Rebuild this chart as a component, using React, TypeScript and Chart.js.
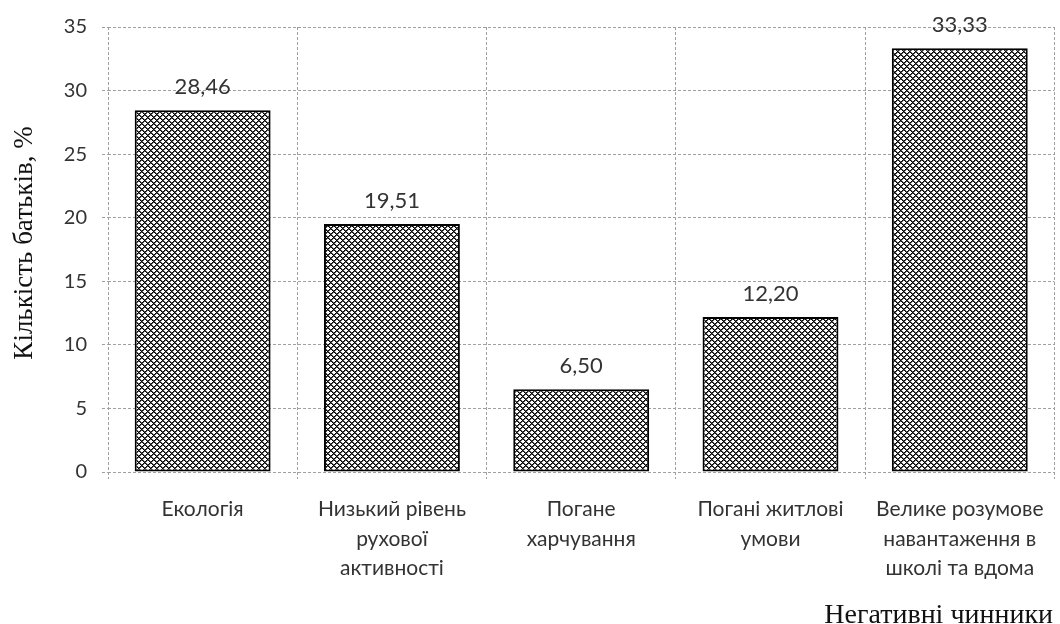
import React, { useEffect, useRef } from "react";
import { Chart, registerables } from "chart.js";

Chart.register(...registerables);

const categories: string[][] = [
  ["Екологія"],
  ["Низький рівень", "рухової", "активності"],
  ["Погане", "харчування"],
  ["Погані житлові", "умови"],
  ["Велике розумове", "навантаження в", "школі та вдома"],
];
const values: number[] = [28.46, 19.51, 6.5, 12.2, 33.33];
const yTitle = "Кількість батьків, %";
const xTitle = "Негативні чинники";
const yMin = 0;
const yMax = 35;
const yStep = 5;

function makePattern(): CanvasPattern | string {
  const s = 6;
  const c = document.createElement("canvas");
  c.width = s;
  c.height = s;
  const g = c.getContext("2d");
  if (!g) return "#888";
  const img = g.createImageData(s, s);
  for (let y = 0; y < s; y++) {
    for (let x = 0; x < s; x++) {
      const a = (x + y) % s;
      const b = (x - y + s) % s;
      let v = 255;
      if (a === 0 || b === 0) v = 0;
      else if (a === 1 || b === 1) v = 90;
      const i = (y * s + x) * 4;
      img.data[i] = v;
      img.data[i + 1] = v;
      img.data[i + 2] = v;
      img.data[i + 3] = 255;
    }
  }
  g.putImageData(img, 0, 0);
  const p = g.createPattern(c, "repeat");
  return p || "#888";
}

const fmt = (v: number) => v.toFixed(2).replace(".", ",");

export default function App() {
  const ref = useRef<HTMLCanvasElement | null>(null);
  useEffect(() => {
    if (!ref.current) return;
    const pattern = makePattern();
    const gridColor = "#a0a0a0";

    const labelsPlugin = {
      id: "labelsPlugin",
      afterDatasetsDraw(chart: any) {
        const ctx = chart.ctx;
        const meta = chart.getDatasetMeta(0);
        ctx.save();
        ctx.font = '22px Lato';
        ctx.fillStyle = "#333333";
        ctx.textAlign = "center";
        ctx.textBaseline = "middle";
        meta.data.forEach((bar: any, i: number) => {
          ctx.fillText(fmt(values[i]), bar.x, bar.y - 23);
        });
        ctx.restore();
      },
      afterDraw(chart: any) {
        const ctx = chart.ctx;
        ctx.save();
        ctx.fillStyle = "#111111";
        ctx.font = '27px "Liberation Serif"';
        ctx.textAlign = "center";
        ctx.textBaseline = "middle";
        ctx.translate(25, 243);
        ctx.rotate(-Math.PI / 2);
        ctx.fillText(yTitle, 0, 0);
        ctx.restore();
        ctx.save();
        ctx.fillStyle = "#111111";
        ctx.font = '28px "Liberation Serif"';
        ctx.textAlign = "right";
        ctx.textBaseline = "alphabetic";
        ctx.fillText(xTitle, 1053, 623);
        ctx.restore();
      },
    };

    const chart = new Chart(ref.current, {
      type: "bar",
      data: {
        labels: categories,
        datasets: [
          {
            data: values,
            backgroundColor: pattern as any,
            borderColor: "#000000",
            borderWidth: 2,
            borderSkipped: false,
            categoryPercentage: 1,
            barPercentage: 0.718,
          },
        ],
      },
      options: {
        animation: false,
        responsive: true,
        maintainAspectRatio: false,
        layout: { padding: { left: 0, top: 26, right: 5, bottom: 0 } },
        plugins: {
          legend: { display: false },
          tooltip: { enabled: false },
        },
        scales: {
          x: {
            grid: {
              color: gridColor,
              offset: true,
              tickLength: 7,
              tickColor: gridColor,
              tickBorderDash: [3, 2],
            },
            border: { display: false, dash: [3, 2] },
            ticks: {
              color: "#333333",
              font: { family: "Lato", size: 21, lineHeight: 1.4 },
              padding: 16,
              maxRotation: 0,
              autoSkip: false,
            },
            afterFit: (s: any) => {
              s.height = 624 - 472;
            },
          },
          y: {
            min: yMin,
            max: yMax,
            grid: {
              color: gridColor,
              tickLength: 6,
              tickColor: gridColor,
              tickBorderDash: [3, 2],
            },
            border: { display: false, dash: [3, 2] },
            ticks: {
              stepSize: yStep,
              color: "#333333",
              font: { family: "Lato", size: 20 },
              padding: 15,
            },
            afterFit: (s: any) => {
              s.width = 108;
            },
          },
        },
      },
      plugins: [labelsPlugin],
    });
    return () => chart.destroy();
  }, []);

  return (
    <div style={{ position: "absolute", left: 0, top: 0, width: 1060, height: 624 }}>
      <canvas ref={ref} />
    </div>
  );
}
